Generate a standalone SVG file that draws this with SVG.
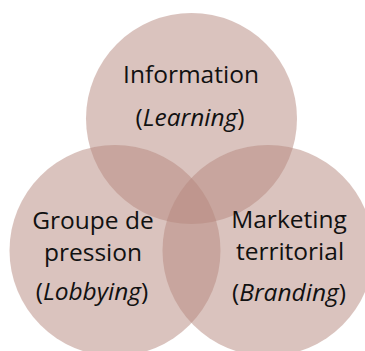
<svg xmlns="http://www.w3.org/2000/svg" width="365" height="351" viewBox="0 0 365 351">
<style>
.c{fill:#b5877e;fill-opacity:0.5}
.t{font-family:"Open Sans","Noto Sans",sans-serif;font-size:24.5px;fill:#111;text-anchor:middle}
.i{font-style:italic}
</style>
<rect width="365" height="351" fill="#fff"/>
<g id="information">
<circle class="c" cx="191.5" cy="118.5" r="105.5"/>
</g>
<g id="groupe-de-pression">
<circle class="c" cx="115" cy="250.5" r="105.5"/>
</g>
<g id="marketing-territorial">
<circle class="c" cx="268" cy="250.5" r="105.5"/>
</g>
<g id="labels">
<text class="t" x="191" y="83">Information</text>
<text class="t" x="190" y="126">(<tspan class="i">Learning</tspan>)</text>
<text class="t" x="93" y="229">Groupe de</text>
<text class="t" x="93" y="261">pression</text>
<text class="t" x="92" y="300">(<tspan class="i">Lobbying</tspan>)</text>
<text class="t" x="289" y="228">Marketing</text>
<text class="t" x="290" y="260">territorial</text>
<text class="t" x="289" y="301">(<tspan class="i">Branding</tspan>)</text>
</g>
</svg>
